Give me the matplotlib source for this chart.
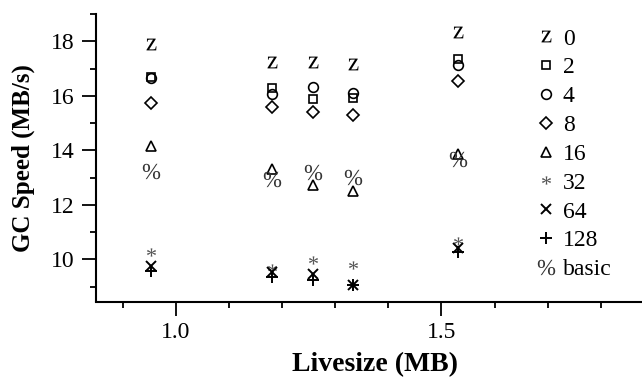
import matplotlib
matplotlib.use("Agg")
import matplotlib.pyplot as plt
from matplotlib.ticker import MultipleLocator, FixedLocator

plt.rcParams['font.family'] = ['Liberation Serif', 'DejaVu Serif']
plt.rcParams['mathtext.fontset'] = 'custom'
plt.rcParams['mathtext.rm'] = 'Liberation Serif'
plt.rcParams['mathtext.it'] = 'Liberation Serif:italic'

# live heap size per benchmark run (MB)
livesize = [0.953, 1.181, 1.258, 1.333, 1.532]

# GC speed (MB/s) for each setting
speed_0 = [17.90, 17.25, 17.23, 17.15, 18.33]
speed_2 = [16.70, 16.29, 15.89, 15.92, 17.36]
speed_4 = [16.66, 16.05, 16.33, 16.09, 17.14]
speed_8 = [15.75, 15.57, 15.42, 15.28, 16.55]
speed_16 = [14.16, 13.32, 12.73, 12.51, 13.86]
speed_32 = [10.28, 9.68, 9.98, 9.80, 10.67]
speed_64 = [9.76, 9.52, 9.45, 9.07, 10.42]
speed_128 = [9.58, 9.34, 9.24, 9.07, 10.25]
speed_basic = [13.25, 12.95, 13.22, 13.01, 13.68]

labels = ['0', '2', '4', '8', '16', '32', '64', '128', 'basic']

fig = plt.figure(figsize=(6.42, 3.79), dpi=100)
ax = fig.add_axes([96 / 642, 77.5 / 379, 558 / 642, 287.5 / 379])

# glyph markers are filled text paths, the others are open outlines
glyph_kw = dict(linestyle='none', markeredgewidth=0)
open_kw = dict(linestyle='none', markerfacecolor='none', markeredgecolor='black',
               markeredgewidth=1.2)

ax.plot(livesize, speed_0, marker=r'$\mathrm{z}$', markersize=8.5, color='black',
        label=labels[0], **glyph_kw)
ax.plot(livesize, speed_2, marker='s', markersize=6.2, label=labels[1], **open_kw)
ax.plot(livesize, speed_4, marker='o', markersize=7, label=labels[2], **open_kw)
ax.plot(livesize, speed_8, marker='D', markersize=5.8, label=labels[3], **open_kw)
ax.plot(livesize, speed_16, marker='^', markersize=7.5, label=labels[4], **open_kw)
ax.plot(livesize, speed_32, marker=r'$\mathrm{*}$', markersize=6.5, color='#555555',
        label=labels[5], **glyph_kw)
ax.plot(livesize, speed_64, marker='x', markersize=7.5, color='black',
        markeredgewidth=1.4, linestyle='none', label=labels[6])
ax.plot(livesize, speed_128, marker='+', markersize=9, color='black',
        markeredgewidth=1.4, linestyle='none', label=labels[7])
ax.plot(livesize, speed_basic, marker=r'$\%$', markersize=12.5, color='#333333',
        label=labels[8], **glyph_kw)

ax.set_xlim(0.85, 1.9)
ax.set_ylim(8.45, 19)

ax.xaxis.set_major_locator(FixedLocator([1.0, 1.5]))
ax.xaxis.set_minor_locator(FixedLocator([0.9, 1.1, 1.2, 1.3, 1.4, 1.6, 1.7, 1.8]))
ax.yaxis.set_major_locator(FixedLocator([10, 12, 14, 16, 18]))
ax.yaxis.set_minor_locator(MultipleLocator(1))
ax.xaxis.set_major_formatter(plt.FormatStrFormatter('%.1f'))

ax.tick_params(which='major', length=10, width=1.3, labelsize=17, direction='out')
ax.tick_params(which='minor', length=4.5, width=1.3, direction='out')
ax.tick_params(axis='x', which='major', pad=5)
ax.tick_params(axis='y', which='major', pad=5.5)

for side in ['top', 'right']:
    ax.spines[side].set_visible(False)
for side in ['left', 'bottom']:
    ax.spines[side].set_linewidth(1.5)

ax.set_xlabel('Livesize (MB)', fontsize=20, fontweight='bold', labelpad=6)
ax.set_ylabel('GC Speed (MB/s)', fontsize=18, fontweight='bold', labelpad=11)

ax.legend(loc='upper left', bbox_to_anchor=(537 / 642, 1 - 28 / 379),
          bbox_transform=fig.transFigure, frameon=False, fontsize=17,
          handlelength=0.8, handletextpad=0.3, labelspacing=0.31,
          borderpad=0, borderaxespad=0, numpoints=1)

fig.savefig('out.png', dpi=100)
